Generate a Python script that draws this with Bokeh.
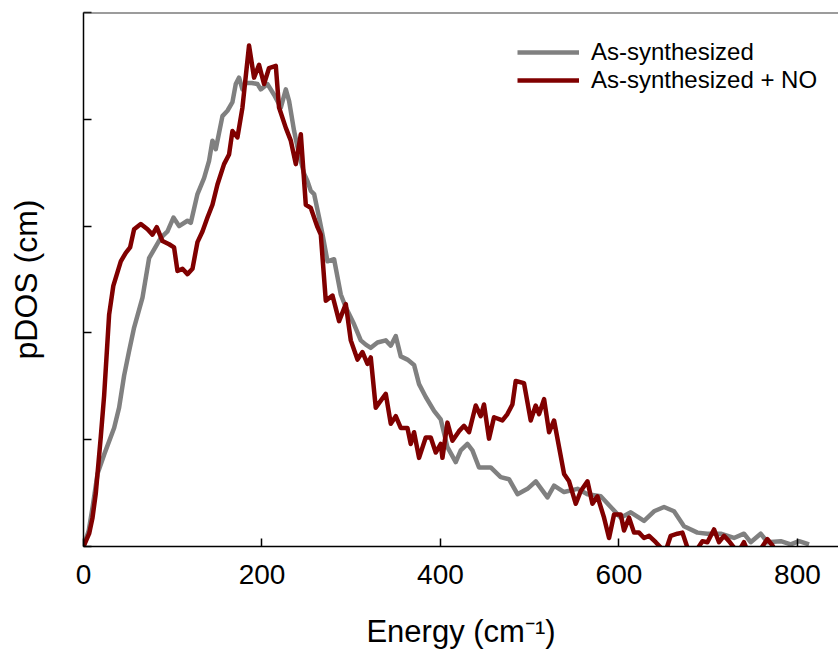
from bokeh.plotting import figure
from bokeh.models import FixedTicker, Span, Legend, LegendItem, ColumnDataSource, CustomJSTickFormatter
from bokeh.embed import file_html
from bokeh.resources import INLINE

# ---- data ----
gray_x = [0, 5.9, 10.4, 15.7, 23.1, 34.3, 39.9, 45.5, 51.1, 56.7, 66.1, 73.5, 86.6, 94.1, 100.8,
          107.1, 116.5, 120.2, 127.7, 135.1, 140.7, 144.5, 148.2, 155.7, 161.3, 166.9, 170.6, 174.3,
          178.1, 181.8, 188.6, 195.0, 198.6, 206.2, 213.5, 221.1, 226.7, 230.4, 236.0, 241.6, 247.2,
          251.0, 254.7, 258.4, 264.0, 268.1, 273.4, 280.8, 288.3, 293.9, 303.2, 310.7, 316.3, 321.9,
          329.4, 338.7, 344.3, 349.9, 355.5, 363.0, 370.4, 376.0, 383.5, 392.8, 400.3, 407.8, 417.1,
          422.7, 430.2, 435.8, 443.2, 456.3, 467.5, 476.8, 486.3, 497.5, 506.8, 519.9, 527.3, 538.5,
          553.5, 564.7, 579.6, 590.8, 602.0, 613.2, 628.1, 639.3, 650.5, 661.7, 672.9, 687.9, 699.1,
          714.0, 728.9, 740.1, 747.6, 758.8, 766.4, 781.3, 792.4, 801.8, 813.0]
gray_y = [0, 0.15, 0.38, 0.68, 0.86, 1.11, 1.30, 1.60, 1.83, 2.05, 2.33, 2.70, 2.89, 2.95, 3.08,
          3.00, 3.05, 3.03, 3.30, 3.45, 3.61, 3.80, 3.72, 4.03, 4.08, 4.16, 4.33, 4.39,
          4.28, 4.34, 4.34, 4.33, 4.28, 4.33, 4.23, 4.11, 4.28, 4.17, 3.89, 3.67, 3.49,
          3.42, 3.33, 3.30, 3.08, 2.91, 2.67, 2.69, 2.36, 2.24, 2.08, 1.93, 1.89, 1.86,
          1.91, 1.93, 1.88, 1.97, 1.78, 1.75, 1.70, 1.52, 1.40, 1.27, 1.19, 0.93, 0.79,
          0.90, 0.96, 0.90, 0.74, 0.74, 0.65, 0.63, 0.49, 0.54, 0.61, 0.46, 0.57, 0.51,
          0.54, 0.49, 0.47, 0.37, 0.27, 0.32, 0.24, 0.33, 0.37, 0.33, 0.19, 0.13, 0.12,
          0.12, 0.08, 0.12, 0.04, 0.12, 0.04, 0.05, 0.02, 0.05, 0.02]

red_x = [0, 6.3, 10.1, 13.8, 15.7, 19.4, 23.1, 28.7, 33.4, 41.8, 47.4, 52.2, 56.7, 64.2, 71.7,
         77.3, 82.1, 88.5, 95.9, 101.5, 105.3, 110.9, 116.5, 122.1, 127.7, 133.3, 138.9, 144.5,
         150.1, 157.5, 163.1, 166.9, 172.5, 178.1, 185.5, 191.1, 196.7, 202.3, 207.9, 215.5,
         219.1, 226.7, 232.3, 237.9, 243.5, 249.1, 254.7, 262.2, 265.9, 271.5, 279.0, 286.4,
         293.9, 299.5, 307.0, 312.6, 318.2, 321.9, 327.5, 338.7, 344.3, 349.9, 355.5, 363.0,
         366.7, 370.4, 376.0, 383.5, 389.1, 394.7, 400.3, 402.2, 407.8, 413.4, 420.8, 426.4,
         432.0, 439.5, 445.1, 448.8, 454.4, 460.0, 469.4, 475.0, 480.6, 484.3, 493.6, 501.1,
         506.7, 510.5, 516.1, 521.7, 527.3, 538.5, 544.1, 551.6, 557.2, 564.7, 570.3, 575.9,
         583.3, 588.9, 594.5, 602.0, 605.7, 611.3, 616.9, 622.5, 628.1, 633.7, 641.2, 646.8,
         652.4, 658.0, 665.5, 671.1, 676.7, 684.9, 693.5, 699.1, 706.5, 712.1, 717.7, 723.3,
         728.9, 734.5, 740.1, 743.9, 755.1, 766.3, 771.9, 777.5]
red_y = [0, 0.12, 0.27, 0.50, 0.68, 1.03, 1.41, 2.17, 2.44, 2.67, 2.75, 2.80, 2.97, 3.02, 2.97,
         2.92, 2.99, 2.86, 2.83, 2.80, 2.58, 2.60, 2.55, 2.60, 2.85, 2.95, 3.08, 3.20,
         3.39, 3.58, 3.67, 3.89, 3.83, 4.11, 4.69, 4.39, 4.51, 4.33, 4.48, 4.50,
         4.11, 3.92, 3.80, 3.58, 3.86, 3.20, 3.17, 2.99, 2.92, 2.30, 2.35, 2.11,
         2.27, 1.93, 1.75, 1.82, 1.71, 1.77, 1.30, 1.43, 1.15, 1.22, 1.11, 1.11,
         0.96, 1.07, 0.83, 1.02, 1.02, 0.88, 0.96, 0.83, 1.16, 0.99, 1.08, 1.13,
         1.07, 1.32, 1.22, 1.33, 1.01, 1.21, 1.18, 1.24, 1.33, 1.55, 1.53, 1.18,
         1.32, 1.24, 1.38, 1.07, 1.18, 0.68, 0.61, 0.40, 0.52, 0.61, 0.40, 0.47,
         0.27, 0.08, 0.30, 0.30, 0.15, 0.27, 0.13, 0.13, 0.08, 0.10, 0.04, -0.01,
         -0.04, 0.10, 0.12, 0.13, -0.01, -0.06, 0.05, 0.04, 0.16, 0.04, 0.10, 0.05,
         -0.01, -0.04, 0.04, -0.04, -0.07, 0.07, 0.01, -0.07]

series_names = ["As-synthesized", "As-synthesized + NO"]
x_ticks = [0, 200, 400, 600, 800]
y_ticks = [0, 1, 2, 3, 4, 5]

FONT = "Liberation Sans"

p = figure(width=838, height=652, output_backend="svg", toolbar_location=None,
           x_range=(0, 846), y_range=(0, 5),
           min_border_left=83, min_border_right=0, min_border_top=12, min_border_bottom=106)

p.grid.visible = False
p.outline_line_color = None
p.background_fill_color = "white"
p.border_fill_color = "white"

gray_src = ColumnDataSource(dict(x=gray_x, y=gray_y))
red_src = ColumnDataSource(dict(x=red_x, y=red_y))
r_gray = p.line("x", "y", source=gray_src, line_color="#808080", line_width=4.5, line_join="round")
r_red = p.line("x", "y", source=red_src, line_color="#800000", line_width=4.5, line_join="round")

# top frame line
p.add_layout(Span(location=5, dimension="width", line_color="#3a3a3a", line_width=2))

# x axis
xa = p.xaxis[0]
xa.ticker = FixedTicker(ticks=x_ticks, minor_ticks=[])
xa.axis_label = "Energy (cm\u207b\u00b9)"
xa.axis_label_text_font = FONT
xa.axis_label_text_font_size = "31px"
xa.axis_label_text_font_style = "normal"
xa.axis_label_text_color = "black"
xa.axis_label_standoff = 27
xa.major_label_text_font = FONT
xa.major_label_text_font_size = "28px"
xa.major_label_text_color = "black"
xa.major_label_standoff = 18
xa.major_tick_in = 8
xa.major_tick_out = 0
xa.minor_tick_in = 0
xa.minor_tick_out = 0
xa.axis_line_color = "black"
xa.axis_line_width = 1.5
xa.major_tick_line_width = 1.5

# y axis (ticks without labels)
ya = p.yaxis[0]
ya.ticker = FixedTicker(ticks=y_ticks, minor_ticks=[])
ya.formatter = CustomJSTickFormatter(code="return ''")
ya.axis_label = "pDOS (cm)"
ya.axis_label_text_font = FONT
ya.axis_label_text_font_size = "32px"
ya.axis_label_text_font_style = "normal"
ya.axis_label_text_color = "black"
ya.axis_label_standoff = 40
ya.major_label_standoff = 0
ya.major_tick_in = 8
ya.major_tick_out = 0
ya.minor_tick_in = 0
ya.minor_tick_out = 0
ya.axis_line_color = "black"
ya.axis_line_width = 1.5
ya.major_tick_line_width = 1.5

legend = Legend(items=[LegendItem(label=series_names[0], renderers=[r_gray]),
                       LegendItem(label=series_names[1], renderers=[r_red])],
                location=(434, 452), orientation="vertical",
                glyph_width=62, glyph_height=28, label_standoff=12, spacing=0,
                padding=0, margin=0, border_line_color=None, background_fill_alpha=0,
                label_text_font=FONT, label_text_font_size="24px", label_text_color="black")
p.add_layout(legend)

open("out.html", "w").write(file_html(p, INLINE))
